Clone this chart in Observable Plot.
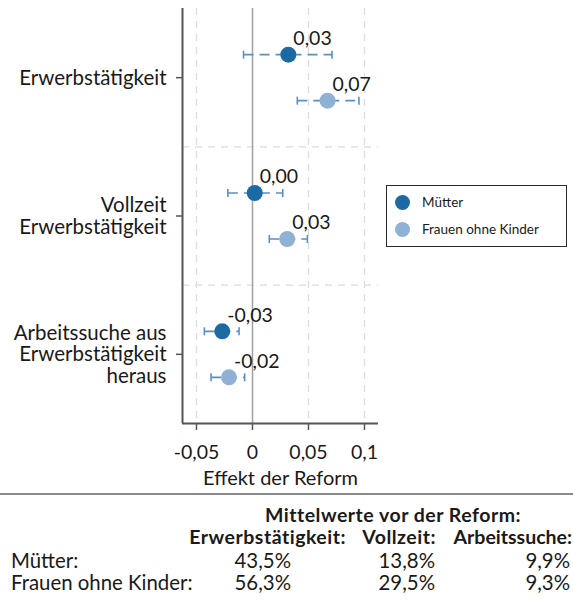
<!DOCTYPE html>
<html>
<head>
<meta charset="utf-8">
<script src="https://cdn.jsdelivr.net/npm/d3@7"></script>
<script src="https://cdn.jsdelivr.net/npm/@observablehq/plot@0.6"></script>
<style>
  body { margin: 0; background: #fff; font-family: Lato, "Open Sans", sans-serif; color: #1a1a1a; }
  #wrap { position: relative; width: 573px; height: 602px; overflow: hidden; }
  #legend { position: absolute; left: 386px; top: 185px; width: 181px; height: 62px; border: 1.6px solid #2a2a2a; box-sizing: border-box; font-size: 13.5px; }
  .li { position: absolute; left: 0; display: flex; align-items: center; white-space: nowrap; }
  .sw { width: 15px; height: 15px; border-radius: 50%; margin-left: 8px; margin-right: 12px; }
  #table { position: absolute; left: 0; top: 490px; width: 573px; height: 112px; font-size: 20.4px; }
  #table .line { position: absolute; left: 0; top: 3px; width: 573px; height: 2px; background: #8a8a8a; }
  #table span { position: absolute; white-space: nowrap; line-height: 0.9; }
  #table span.b { font-weight: bold; font-size: 19.5px; letter-spacing: 0.5px; line-height: 0.85; }
</style>
</head>
<body>
<div id="wrap"></div>
<script>
// ---- data ----
const categories = ["Erwerbstätigkeit", "Vollzeit\nErwerbstätigkeit", "Arbeitssuche aus\nErwerbstätigkeit\nheraus"];
const seriesNames = ["Mütter", "Frauen ohne Kinder"];
const seriesColors = ["#1c6aa3", "#8fb1d6"];
const ciColor = "#5a8fc3";
const muetterEst  = [0.032, 0.002, -0.027];
const muetterLow  = [-0.008, -0.022, -0.043];
const muetterHigh = [0.071, 0.027, -0.012];
const frauenEst   = [0.067, 0.031, -0.021];
const frauenLow   = [0.040, 0.015, -0.037];
const frauenHigh  = [0.095, 0.049, -0.007];
const xTicks = [-0.05, 0, 0.05, 0.1];
const xDomain = [-0.0625, 0.1125];
const xLabel = "Effekt der Reform";
const tableTitle = "Mittelwerte vor der Reform:";
const tableHeaders = ["Erwerbstätigkeit:", "Vollzeit:", "Arbeitssuche:"];
const tableRows = ["Mütter:", "Frauen ohne Kinder:"];
const muetterMeans = ["43,5%", "13,8%", "9,9%"];
const frauenMeans = ["56,3%", "29,5%", "9,3%"];

// ---- build ----
const comma = v => String(v).replace(".", ",");
const rows = (est, low, high) => categories.map((c, i) => ({i, est: est[i], low: low[i], high: high[i]}));
const mRows = rows(muetterEst, muetterLow, muetterHigh);
const fRows = rows(frauenEst, frauenLow, frauenHigh);
const yDomain = [-0.5, categories.length - 0.5];
const capSymbol = { draw(ctx, size) { const h = Math.sqrt(size / Math.PI); ctx.moveTo(0, -h); ctx.lineTo(0, h); } };
const offsets = [-23, 23];

function seriesMarks(data, k) {
  const dy = offsets[k];
  return [
    Plot.link(data, {x1: "low", x2: "high", y1: "i", y2: "i", dy, stroke: ciColor, strokeWidth: 1.6, strokeDasharray: "10,6"}),
    Plot.dot(data, {x: "low", y: "i", dy, symbol: capSymbol, r: 4, stroke: ciColor, strokeWidth: 1.6}),
    Plot.dot(data, {x: "high", y: "i", dy, symbol: capSymbol, r: 4, stroke: ciColor, strokeWidth: 1.6}),
    Plot.dot(data, {x: "est", y: "i", dy, r: 8, fill: seriesColors[k], stroke: "none"}),
    Plot.text(data, {x: "est", y: "i", text: d => d.est.toFixed(2).replace(".", ","), dy: dy - 16, dx: 5, textAnchor: "start", fontSize: 19.5, fill: "#1a1a1a"})
  ];
}

const chart = Plot.plot({
  width: 573,
  height: 490,
  marginLeft: 182,
  marginRight: 195,
  marginTop: 8,
  marginBottom: 67,
  style: {fontFamily: "Lato, 'Open Sans', sans-serif", color: "#1a1a1a", background: "#fff"},
  x: {domain: xDomain},
  y: {domain: yDomain, reverse: true},
  marks: [
    Plot.ruleX(xTicks.filter(t => t !== 0), {stroke: "#dcdcdc", strokeWidth: 1.3, strokeDasharray: "7,6"}),
    Plot.ruleY(d3.range(categories.length - 1).map(i => i + 0.5), {stroke: "#dcdcdc", strokeWidth: 1.3, strokeDasharray: "7,6"}),
    Plot.ruleX([0], {stroke: "#a0a0a0", strokeWidth: 1.5}),
    Plot.ruleX([xDomain[0]], {stroke: "#555", strokeWidth: 2}),
    Plot.ruleY([yDomain[1]], {stroke: "#555", strokeWidth: 2}),
    Plot.axisY({ticks: d3.range(categories.length), tickFormat: i => categories[i], tickSize: 6, tickPadding: 10, fontSize: 20.5, lineHeight: 1.06, label: null, stroke: "#555", strokeWidth: 1.5}),
    Plot.axisX({ticks: xTicks, tickFormat: comma, tickSize: 7, tickPadding: 15, fontSize: 19.5, label: null, stroke: "#555", strokeWidth: 1.5}),
    Plot.text([xLabel], {frameAnchor: "bottom", dy: 61, fontSize: 20, fill: "#1a1a1a"}),
    ...seriesMarks(mRows, 0),
    ...seriesMarks(fRows, 1)
  ]
});

const wrap = document.getElementById("wrap");
wrap.appendChild(chart);

// legend
const legend = document.createElement("div");
legend.id = "legend";
seriesNames.forEach((name, k) => {
  const item = document.createElement("div");
  item.className = "li";
  item.style.top = (k === 0 ? 8 : 35) + "px";
  const sw = document.createElement("div");
  sw.className = "sw";
  sw.style.background = seriesColors[k];
  const tx = document.createElement("span");
  tx.textContent = name;
  item.append(sw, tx);
  legend.appendChild(item);
});
wrap.appendChild(legend);

// table
const table = document.createElement("div");
table.id = "table";
table.innerHTML = '<div class="line"></div>';
function put(text, opts, bold) {
  const s = document.createElement("span");
  s.textContent = text;
  if (bold) s.className = "b";
  Object.assign(s.style, opts);
  table.appendChild(s);
}
put(tableTitle, {left: "265px", top: "17px"}, true);
const headerPos = [{right: "227px"}, {right: "137px"}, {right: "1px", letterSpacing: "0px"}];
tableHeaders.forEach((h, j) => put(h, Object.assign({top: "39px"}, headerPos[j]), true));
const rowTops = [61, 83];
const valRight = [282, 138, 3];
tableRows.forEach((r, k) => {
  put(r, {left: "11px", top: rowTops[k] + "px"});
  const vals = k === 0 ? muetterMeans : frauenMeans;
  vals.forEach((v, j) => put(v, {right: valRight[j] + "px", top: rowTops[k] + "px"}));
});
wrap.appendChild(table);
</script>
</body>
</html>
